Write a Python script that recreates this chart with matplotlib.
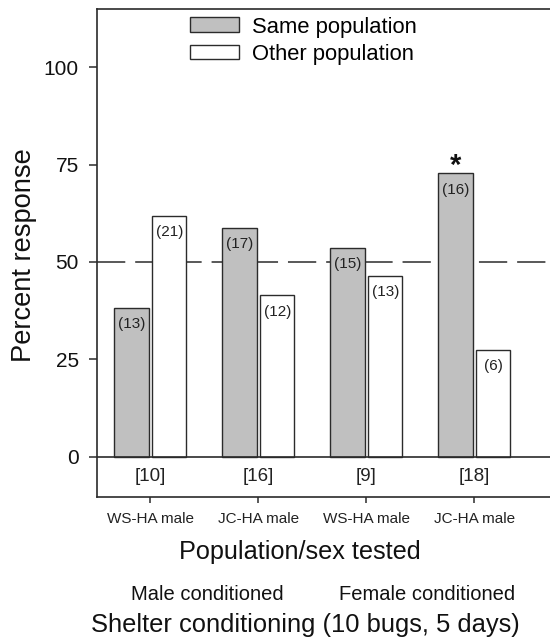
import matplotlib
matplotlib.use("Agg")
import matplotlib.pyplot as plt
import numpy as np

plt.rcParams['font.family'] = ['Liberation Sans', 'DejaVu Sans']

groups = ["WS-HA male", "JC-HA male", "WS-HA male", "JC-HA male"]
same_pop = [38.2, 58.6, 53.6, 72.7]
other_pop = [61.8, 41.4, 46.4, 27.3]
same_n = ["(13)", "(17)", "(15)", "(16)"]
other_n = ["(21)", "(12)", "(13)", "(6)"]
bracket_n = ["[10]", "[16]", "[9]", "[18]"]
signif = [False, False, False, True]
yticks = [0, 25, 50, 75, 100]

W, H = 550, 640
fig = plt.figure(figsize=(5.5, 6.4), dpi=100)
ax = fig.add_axes([97 / W, 1 - 497 / H, 1 - 97 / W + 0.002, (497 - 9) / H])

edge = '#2b2b2b'
x = np.arange(len(groups))
bw = 0.316
off = 0.175

ax.axhline(50, color=edge, lw=1.1, dashes=(18.5, 6.5), zorder=1)
ax.axhline(0, color=edge, lw=1.2, zorder=3)

b1 = ax.bar(x - off, same_pop, bw, color='#c0c0c0', edgecolor=edge, lw=1.0,
            zorder=2, label='Same population')
b2 = ax.bar(x + off, other_pop, bw, color='white', edgecolor=edge, lw=1.0,
            zorder=2, label='Other population')

for xi, v, t in zip(x - off, same_pop, same_n):
    ax.annotate(t, (xi, v), xytext=(0, -6.5), textcoords='offset points',
                ha='center', va='top', fontsize=11, color='#222')
for xi, v, t in zip(x + off, other_pop, other_n):
    ax.annotate(t, (xi, v), xytext=(0, -6.5), textcoords='offset points',
                ha='center', va='top', fontsize=11, color='#222')
for xi, v, s in zip(x - off, same_pop, signif):
    if s:
        ax.annotate('*', (xi, v), xytext=(0, 0), textcoords='offset points',
                    ha='center', va='baseline', fontsize=21, fontweight='bold',
                    color='#111')
for xi, t in zip(x, bracket_n):
    ax.text(xi, -5.1, t, ha='center', va='center', fontsize=13.5, color='#222')

ax.set_xlim(-0.495, 3.711)
ax.set_ylim(-10.3, 114.9)
ax.set_yticks(yticks)
ax.set_yticklabels([str(v) for v in yticks])
ax.set_xticks(x)
ax.set_xticklabels(groups)
ax.tick_params(axis='y', direction='out', length=6, width=1.1, color=edge,
               labelsize=15, pad=7, labelcolor='#111')
ax.tick_params(axis='x', direction='out', length=4.5, width=1.1, color=edge,
               labelsize=11, pad=6, labelcolor='#222')
for s in ['left', 'top', 'bottom']:
    ax.spines[s].set_color(edge)
    ax.spines[s].set_linewidth(1.2)
ax.spines['right'].set_visible(False)

leg = ax.legend(loc='upper left', bbox_to_anchor=(190 / W, 1 - 16.5 / H),
                bbox_transform=fig.transFigure, frameon=False, fontsize=15.8,
                handlelength=2.24, handleheight=0.65, handletextpad=0.6,
                labelspacing=0.28, borderpad=0, borderaxespad=0)

fig.text(24 / W, 1 - 255.5 / H, 'Percent response', rotation=90, ha='center',
         va='center', fontsize=19.6, color='#111')
fig.text(300 / W, 1 - 552 / H, 'Population/sex tested', ha='center',
         va='center', fontsize=18.2, color='#111')
fig.text(207.5 / W, 1 - 594 / H, 'Male conditioned', ha='center',
         va='center', fontsize=14.5, color='#111')
fig.text(427.5 / W, 1 - 594 / H, 'Female conditioned', ha='center',
         va='center', fontsize=14.5, color='#111')
fig.text(305 / W, 1 - 625 / H, 'Shelter conditioning (10 bugs, 5 days)',
         ha='center', va='center', fontsize=18.4, color='#111')

fig.savefig('out.png', dpi=100)
